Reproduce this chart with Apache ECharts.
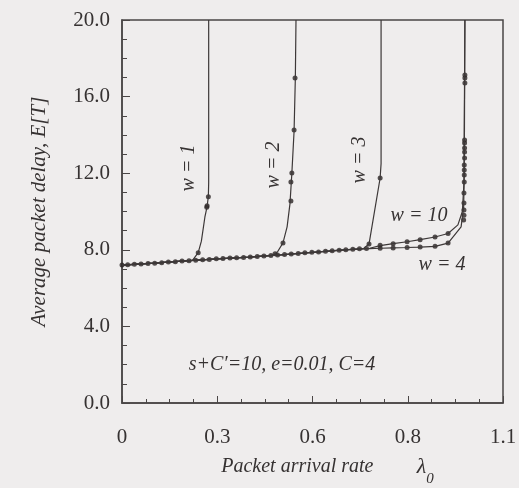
<!DOCTYPE html>
<html>
<head>
<meta charset="utf-8">
<script src="https://cdn.jsdelivr.net/npm/echarts@6/dist/echarts.min.js"></script>
<style>
  html, body { margin: 0; padding: 0; background: #efeded; }
  #chart { width: 519px; height: 488px; }
</style>
</head>
<body>
<div id="chart"></div>
<script>
// x tick labels as printed on the original figure
const xTickLabels = ['0', '0.3', '0.6', '0.8', '1.1'];

// analytic curves [lambda, E[T]]
const curveW1 = [[0, 7.20], [0.1, 7.30], [0.2, 7.42], [0.222, 7.45], [0.240, 7.85], [0.250, 8.45],
  [0.261, 9.70], [0.268, 10.25], [0.272, 10.8], [0.273, 11.5], [0.273, 20]];
const curveW2 = [[0, 7.20], [0.1, 7.30], [0.2, 7.42], [0.3, 7.53], [0.4, 7.62], [0.476, 7.72],
  [0.490, 7.90], [0.507, 8.36], [0.520, 9.2], [0.529, 10.4], [0.535, 12.0], [0.542, 14.2],
  [0.546, 17.0], [0.548, 20]];
const curveW3 = [[0, 7.20], [0.1, 7.30], [0.2, 7.42], [0.3, 7.53], [0.4, 7.62], [0.5, 7.74],
  [0.6, 7.87], [0.7, 8.00], [0.760, 8.06], [0.778, 8.30], [0.813, 11.75], [0.816, 12.5], [0.816, 20]];
const curveW10 = [[0, 7.20], [0.1, 7.30], [0.2, 7.42], [0.3, 7.53], [0.4, 7.62], [0.5, 7.74],
  [0.6, 7.87], [0.7, 8.00], [0.78, 8.08], [0.813, 8.22], [0.854, 8.32], [0.898, 8.42],
  [0.939, 8.53], [0.986, 8.67], [1.027, 8.85], [1.058, 9.3], [1.072, 10.0], [1.077, 11.5], [1.080, 20]];
const curveW4 = [[0, 7.20], [0.1, 7.30], [0.2, 7.42], [0.3, 7.53], [0.4, 7.62], [0.5, 7.74],
  [0.6, 7.87], [0.7, 8.00], [0.78, 8.06], [0.813, 8.08], [0.854, 8.10], [0.898, 8.12],
  [0.939, 8.14], [0.986, 8.18], [1.027, 8.35], [1.068, 9.2], [1.076, 10.2], [1.078, 12], [1.080, 20]];

// simulation points
const dotsW1 = [[0, 7.20], [0.039, 7.24], [0.082, 7.28], [0.125, 7.33], [0.168, 7.38], [0.211, 7.43],
  [0.240, 7.85], [0.267, 10.22], [0.268, 10.30], [0.272, 10.77]];
const dotsW2 = [[0.018, 7.22], [0.060, 7.26], [0.103, 7.30], [0.146, 7.36], [0.189, 7.41], [0.232, 7.46],
  [0.275, 7.50], [0.318, 7.55], [0.361, 7.58], [0.404, 7.62], [0.447, 7.68], [0.482, 7.80],
  [0.507, 8.36], [0.532, 10.55], [0.532, 11.54], [0.535, 12.01], [0.542, 14.26], [0.545, 16.97]];
const dotsW3 = [[0.254, 7.48], [0.297, 7.53], [0.340, 7.57], [0.383, 7.60], [0.426, 7.65], [0.469, 7.70],
  [0.512, 7.76], [0.555, 7.81], [0.598, 7.87], [0.641, 7.92], [0.684, 7.98], [0.727, 8.03],
  [0.778, 8.30], [0.813, 11.75]];
const dotsW10 = [[0.490, 7.73], [0.533, 7.78], [0.576, 7.84], [0.619, 7.89], [0.662, 7.95], [0.705, 8.00],
  [0.748, 8.05], [0.813, 8.24], [0.854, 8.32], [0.898, 8.42], [0.939, 8.53], [0.986, 8.67], [1.027, 8.85],
  [1.076, 9.56], [1.077, 10.08], [1.077, 10.97], [1.078, 11.91], [1.078, 12.43], [1.079, 13.11],
  [1.079, 13.58], [1.080, 16.71], [1.080, 17.13]];
const dotsW4 = [[0.770, 8.07], [0.813, 8.08], [0.854, 8.10], [0.898, 8.12], [0.939, 8.14], [0.986, 8.18],
  [1.027, 8.35], [1.077, 9.80], [1.077, 10.44], [1.078, 11.54], [1.078, 12.17], [1.079, 12.79],
  [1.079, 13.32], [1.079, 13.73], [1.080, 16.97]];

const curveNames = ['w = 1', 'w = 2', 'w = 3', 'w = 10', 'w = 4'];
const curveData = [curveW1, curveW2, curveW3, curveW10, curveW4];
const dotData = [dotsW1, dotsW2, dotsW3, dotsW10, dotsW4];

const serif = '"Liberation Serif", "DejaVu Serif", serif';
const ink = '#363232';

let myChart = echarts.init(document.getElementById('chart'));

let series = [];
curveNames.forEach((name, i) => {
  series.push({
    name: name,
    type: 'line',
    data: curveData[i],
    showSymbol: false,
    lineStyle: { color: '#3d3838', width: 1.2 },
    silent: true
  });
  series.push({
    name: name + ' sim',
    type: 'scatter',
    data: dotData[i],
    symbolSize: 5,
    itemStyle: { color: '#2a2424' },
    silent: true
  });
});

function note(text, x, y, rotated) {
  return {
    type: 'text',
    x: x,
    y: y,
    rotation: rotated ? Math.PI / 2 : 0,
    style: {
      text: text,
      fontFamily: serif,
      fontStyle: 'italic',
      fontSize: 20,
      fill: ink,
      align: 'center',
      verticalAlign: 'middle'
    }
  };
}

let option = {
  backgroundColor: '#efeded',
  animation: false,
  grid: {
    left: 122, right: 16, top: 20, bottom: 85,
    outerBoundsMode: 'none',
    containLabel: false,
    show: true,
    borderColor: '#4a4646',
    borderWidth: 1.5
  },
  xAxis: {
    type: 'value',
    min: 0, max: 1.2, interval: 0.3,
    axisLine: { lineStyle: { color: '#4a4646', width: 1.5 } },
    axisTick: { inside: true, length: 7, lineStyle: { color: '#4a4646' } },
    minorTick: { show: true, splitNumber: 4, length: 4, lineStyle: { color: '#4a4646' } },
    splitLine: { show: false },
    axisLabel: {
      margin: 24,
      fontFamily: serif, fontSize: 21, color: ink,
      formatter: (v, idx) => xTickLabels[idx]
    },
    name: '{t|Packet arrival rate} {l|λ}{s|0}',
    nameLocation: 'middle',
    nameGap: 44,
    nameTextStyle: {
      rich: {
        t: { fontFamily: serif, fontStyle: 'italic', fontSize: 20, color: ink, lineHeight: 40, padding: [0, 0, 0, 30] },
        l: { fontFamily: serif, fontStyle: 'italic', fontSize: 22, color: ink, lineHeight: 40, padding: [0, 0, 0, 40] },
        s: { fontFamily: serif, fontStyle: 'italic', fontSize: 15, color: ink, lineHeight: 8, verticalAlign: 'bottom' }
      }
    }
  },
  yAxis: {
    type: 'value',
    min: 0, max: 20, interval: 4,
    axisLine: { show: true, lineStyle: { color: '#4a4646', width: 1.5 } },
    axisTick: { show: true, inside: true, length: 8, lineStyle: { color: '#4a4646' } },
    minorTick: { show: true, splitNumber: 4, length: 5, lineStyle: { color: '#4a4646' } },
    splitLine: { show: false },
    axisLabel: {
      margin: 12,
      fontFamily: serif, fontSize: 21, color: ink,
      formatter: v => v.toFixed(1)
    },
    name: 'Average packet delay, E[T]',
    nameLocation: 'middle',
    nameGap: 72,
    nameTextStyle: { fontFamily: serif, fontStyle: 'italic', fontSize: 21, color: ink }
  },
  graphic: [
    note('w = 1', 189, 168, true),
    note('w = 2', 274, 165, true),
    note('w = 3', 360, 160, true),
    note('w = 10', 419, 216, false),
    note('w = 4', 442, 265, false),
    note('s+C′=10, e=0.01, C=4', 282, 365, false)
  ],
  series: series
};
myChart.setOption(option);
</script>
</body>
</html>
